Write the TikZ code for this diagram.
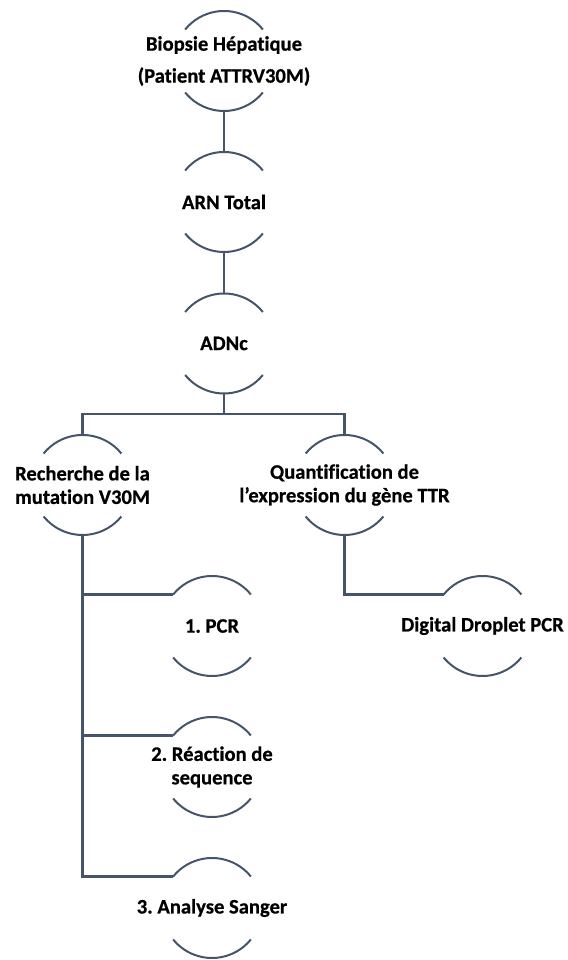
\documentclass[tikz,border=0pt]{standalone}
\usepackage{fontspec}
\setmainfont{Carlito}[BoldFont={Carlito Bold}, BoldFeatures={FakeBold=0.6}, Ligatures=NoCommon]
\frenchspacing
\definecolor{slate}{HTML}{44546A}
\tikzset{
  ring/.style={circle, minimum size=100pt, inner sep=0pt, outer sep=0pt, draw=none},
  lab/.style={align=center, text=black, inner sep=0pt, font=\bfseries\fontsize{20.6}{23.5}\selectfont},
  arcline/.style={draw=slate, line width=2pt},
  conn/.style={draw=slate, line width=2.8pt},
}
\begin{document}
\begin{tikzpicture}[x=1pt,y=1pt]
\useasboundingbox (0,0) rectangle (567,960);
% circles (invisible shapes, arcs drawn below)
\node[ring] (bio)   at (224,899)   {};
\node[ring] (arn)   at (224,758)   {};
\node[ring] (adn)   at (224,616.5) {};
\node[ring] (rech)  at (82.5,475)  {};
\node[ring] (quant) at (344.5,475) {};
\node[ring] (pcr)   at (212,334)   {};
\node[ring] (ddp)   at (482.5,334) {};
\node[ring] (rea)   at (212,193)   {};
\node[ring] (sang)  at (212,52)    {};
\foreach \n in {bio,arn,adn,rech,quant,pcr,ddp,rea,sang}{
  \draw[arcline] (\n.39) arc[start angle=39, end angle=141, radius=50pt];
  \draw[arcline] (\n.219) arc[start angle=219, end angle=321, radius=50pt];
}
% labels
\node[lab] (tbio)   at (bio)   {Biopsie Hépatique\\[8.5pt](Patient ATTRV30M)};
\node[lab] (tarn)   at (arn)   {ARN Total};
\node[lab] (tadn)   at (adn)   {ADNc};
\node[lab] (trech)  at (rech)  {Recherche de la\\mutation V30M};
\node[lab] (tquant) at (quant) {Quantification de\\l’expression du gène TTR};
\node[lab] (tpcr)   at (pcr)   {1. PCR};
\node[lab] (tddp)   at (ddp)   {Digital Droplet PCR};
\node[lab] (trea)   at (rea)   {2. Réaction de\\sequence};
\node[lab] (tsang)  at (sang)  {3. Analyse Sanger};
% connectors
\coordinate (bus) at (224,546);
\draw[conn] (bio.south) -- (arn.north);
\draw[conn] (arn.south) -- (adn.north);
\draw[conn] (adn.south) -- (bus);
\draw[conn] (bus) -| (rech.north);
\draw[conn] (bus) -| (quant.north);
\draw[conn] (rech.south) |- (pcr.141);
\draw[conn] (rech.south) |- (rea.141);
\draw[conn] (rech.south) |- (sang.141);
\draw[conn] (quant.south) |- (ddp.141);
\end{tikzpicture}
\end{document}
